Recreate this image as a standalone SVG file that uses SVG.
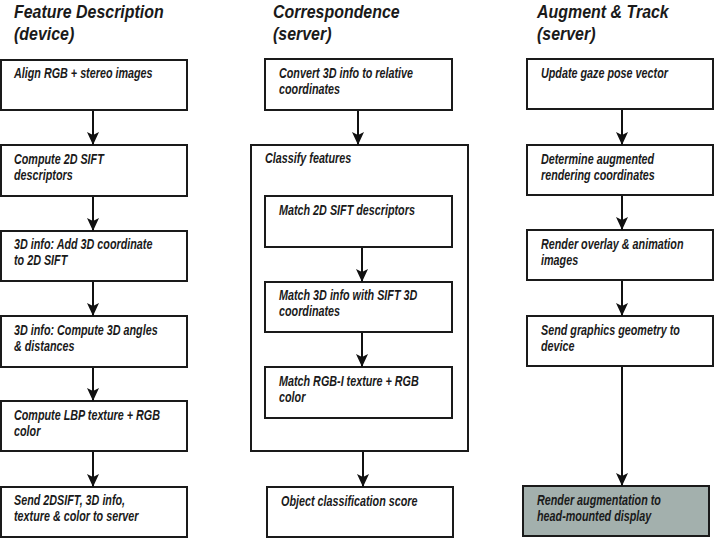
<svg xmlns="http://www.w3.org/2000/svg" width="715" height="538" viewBox="0 0 715 538">
<style>
text{font-family:"Liberation Sans",Arial,sans-serif;font-style:italic;font-weight:bold;fill:#1a1a1a}
.t{font-size:19px}
.b{font-size:14px}
.box{fill:#fff;stroke:#1a1a1a;stroke-width:2}
.gray{fill:#a3b0ad;stroke:#1a1a1a;stroke-width:2}
.c{stroke:#111;stroke-width:2;fill:none;marker-end:url(#ah)}
</style>
<defs>
<marker id="ah" markerUnits="userSpaceOnUse" markerWidth="14" markerHeight="14" viewBox="0 0 14 12" refX="13" refY="6" orient="auto">
<path d="M0,0 L13,6 L0,12 L3,6 z" fill="#111"/>
</marker>
</defs>
<g id="titles">
<text class="t" transform="translate(14,18) scale(0.84,1)">Feature Description</text>
<text class="t" transform="translate(14,40) scale(0.84,1)">(device)</text>
<text class="t" transform="translate(273,18) scale(0.84,1)">Correspondence</text>
<text class="t" transform="translate(273,40) scale(0.84,1)">(server)</text>
<text class="t" transform="translate(537,18) scale(0.84,1)">Augment &amp; Track</text>
<text class="t" transform="translate(537,40) scale(0.84,1)">(server)</text>
</g>
<g id="n1"><rect class="box" x="1" y="60" width="186" height="50"/><text class="b" transform="translate(14,78) scale(0.77,1)">Align RGB + stereo images</text></g>
<g id="n2"><rect class="box" x="1" y="145" width="186" height="51"/><text class="b" transform="translate(14,164) scale(0.77,1)">Compute 2D SIFT</text><text class="b" transform="translate(14,180) scale(0.77,1)">descriptors</text></g>
<g id="n3"><rect class="box" x="1" y="231" width="186" height="50"/><text class="b" transform="translate(14,249) scale(0.77,1)">3D info: Add 3D coordinate</text><text class="b" transform="translate(14,265) scale(0.77,1)">to 2D SIFT</text></g>
<g id="n4"><rect class="box" x="1" y="316" width="186" height="51"/><text class="b" transform="translate(14,335) scale(0.77,1)">3D info: Compute 3D angles</text><text class="b" transform="translate(14,351) scale(0.77,1)">&amp; distances</text></g>
<g id="n5"><rect class="box" x="1" y="401" width="186" height="50"/><text class="b" transform="translate(14,420) scale(0.77,1)">Compute LBP texture + RGB</text><text class="b" transform="translate(14,436) scale(0.77,1)">color</text></g>
<g id="n6"><rect class="box" x="1" y="487" width="186" height="50"/><text class="b" transform="translate(14,505) scale(0.77,1)">Send 2DSIFT, 3D info,</text><text class="b" transform="translate(14,521) scale(0.77,1)">texture &amp; color to server</text></g>
<g id="c1"><rect class="box" x="265" y="59" width="187" height="51"/><text class="b" transform="translate(279,78) scale(0.77,1)">Convert 3D info to relative</text><text class="b" transform="translate(279,94) scale(0.77,1)">coordinates</text></g>
<g id="c2"><rect class="box" x="251" y="145" width="217" height="306"/><text class="b" transform="translate(265,163) scale(0.77,1)">Classify features</text></g>
<g id="c3"><rect class="box" x="265" y="196" width="187" height="51"/><text class="b" transform="translate(279,215) scale(0.77,1)">Match 2D SIFT descriptors</text></g>
<g id="c4"><rect class="box" x="265" y="282" width="187" height="50"/><text class="b" transform="translate(279,300) scale(0.77,1)">Match 3D info with SIFT 3D</text><text class="b" transform="translate(279,316) scale(0.77,1)">coordinates</text></g>
<g id="c5"><rect class="box" x="265" y="367" width="187" height="51"/><text class="b" transform="translate(279,386) scale(0.77,1)">Match RGB-I texture + RGB</text><text class="b" transform="translate(279,402) scale(0.77,1)">color</text></g>
<g id="c6"><rect class="box" x="267" y="487" width="186" height="50"/><text class="b" transform="translate(281,506) scale(0.77,1)">Object classification score</text></g>
<g id="a1"><rect class="box" x="527" y="59" width="186" height="50"/><text class="b" transform="translate(541,78) scale(0.77,1)">Update gaze pose vector</text></g>
<g id="a2"><rect class="box" x="527" y="145" width="186" height="50"/><text class="b" transform="translate(541,164) scale(0.77,1)">Determine augmented</text><text class="b" transform="translate(541,180) scale(0.77,1)">rendering coordinates</text></g>
<g id="a3"><rect class="box" x="527" y="230" width="186" height="50"/><text class="b" transform="translate(541,249) scale(0.77,1)">Render overlay &amp; animation</text><text class="b" transform="translate(541,265) scale(0.77,1)">images</text></g>
<g id="a4"><rect class="box" x="527" y="316" width="186" height="50"/><text class="b" transform="translate(541,335) scale(0.77,1)">Send graphics geometry to</text><text class="b" transform="translate(541,351) scale(0.77,1)">device</text></g>
<g id="a5"><rect class="gray" x="523" y="486" width="186" height="50"/><text class="b" transform="translate(537,505) scale(0.77,1)">Render augmentation to</text><text class="b" transform="translate(537,521) scale(0.77,1)">head-mounted display</text></g>
<g id="connectors">
<line class="c" x1="93" y1="111" x2="93" y2="145"/>
<line class="c" x1="93" y1="197" x2="93" y2="231"/>
<line class="c" x1="93" y1="282" x2="93" y2="316"/>
<line class="c" x1="93" y1="368" x2="93" y2="401"/>
<line class="c" x1="93" y1="452" x2="93" y2="487"/>
<line class="c" x1="358" y1="111" x2="358" y2="145"/>
<line class="c" x1="362" y1="248" x2="362" y2="282"/>
<line class="c" x1="362" y1="333" x2="362" y2="367"/>
<line class="c" x1="363" y1="452" x2="363" y2="487"/>
<line class="c" x1="622" y1="110" x2="622" y2="145"/>
<line class="c" x1="622" y1="196" x2="622" y2="230"/>
<line class="c" x1="622" y1="281" x2="622" y2="316"/>
<line class="c" x1="622" y1="367" x2="622" y2="486"/>
</g>
</svg>
